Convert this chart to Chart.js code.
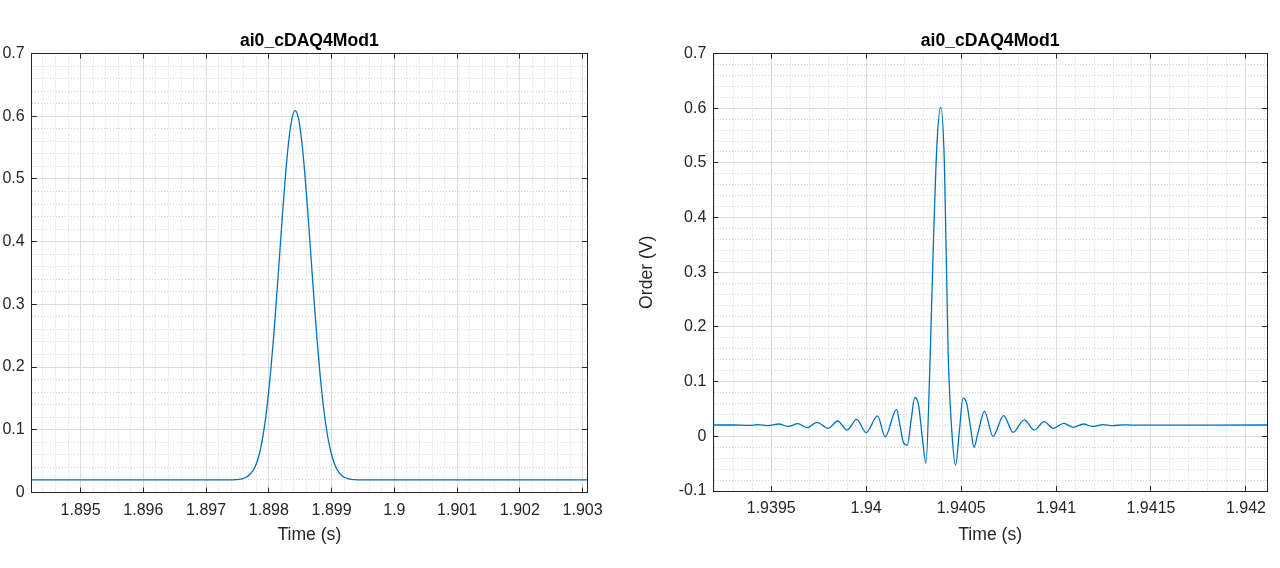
<!DOCTYPE html>
<html><head><meta charset="utf-8">
<script src="https://cdn.jsdelivr.net/npm/chart.js@4"></script>
<style>
html,body{margin:0;padding:0;background:#fff;width:1280px;height:568px;overflow:hidden}
#c1{position:absolute;left:0;top:0}
#c2{position:absolute;left:620px;top:0}
</style>
</head><body>
<canvas id="c1" width="620" height="568"></canvas>
<canvas id="c2" width="660" height="568"></canvas>
<script>
const chartTitle = 'ai0_cDAQ4Mod1';
const xAxisTitle = 'Time (s)';
const yAxisTitleRight = 'Order (V)';

// Left panel series
const leftTimes = [1.89422,
  1.89742,1.89747,1.89752,1.89757,1.89762,1.89767,1.89772,1.89777,1.89782,1.89787,
  1.89792,1.89797,1.89802,1.89807,1.89812,1.89817,1.89822,1.89827,1.89832,1.89837,
  1.89842,
  1.89847,1.89852,1.89857,1.89862,1.89867,1.89872,1.89877,1.89882,1.89887,1.89892,
  1.89897,1.89902,1.89907,1.89912,1.89917,1.89922,1.89927,1.89932,1.89937,1.89942,
  1.90308];
const leftValues = [0.0200,
  0.0202,0.0204,0.0209,0.0218,0.0235,0.0265,0.0312,0.0390,0.0515,0.0712,
  0.0990,0.1366,0.1837,0.2411,0.3067,0.3772,0.4477,0.5120,0.5637,0.5973,
  0.6090,
  0.5973,0.5637,0.5120,0.4477,0.3772,0.3067,0.2411,0.1837,0.1366,0.0997,
  0.0724,0.0531,0.0400,0.0317,0.0265,0.0235,0.0218,0.0209,0.0204,0.0202,
  0.0200];

// Right panel series
const rightTimes = [1.93910,1.93930,1.93938,1.93943,1.93948,1.93954,1.93959,1.93964,1.93969,1.93974,
  1.93980,1.93985,1.93990,1.93995,1.94000,1.94006,1.94010,1.94016,1.940178,1.940197,
  1.940217,1.940237,1.940256,1.940276,1.940295,1.940315,1.940334,1.940353,1.940373,1.940393,
  1.940412,1.940432,1.940451,1.940471,1.940491,1.940510,1.940529,1.940549,1.940568,1.940588,
  1.940623,1.940668,1.940724,1.940774,1.940832,1.940885,1.940938,1.940985,1.941041,1.941091,
  1.941144,1.941193,1.941246,1.941299,1.941350,1.941400,1.942200];
const rightValues = [0.0207,0.0207,0.0201,0.0212,0.0197,0.0225,0.0180,0.0231,0.0158,0.0256,
  0.0146,0.0280,0.0115,0.0310,0.0067,0.0372,-0.0007,0.0493,0.0200,-0.0120,
  -0.0160,0.0300,0.0710,0.0570,0.0000,-0.0490,0.1100,0.3400,0.5350,0.6020,
  0.5000,0.1500,0.0100,-0.0525,0.0100,0.0700,0.0610,0.0180,-0.0200,0.0050,
  0.0456,0.0000,0.0380,0.0073,0.0300,0.0115,0.0267,0.0146,0.0237,0.0164,
  0.0225,0.0180,0.0215,0.0195,0.0210,0.0205,0.0207];

// Axis ranges and tick labels
const leftXRange = [1.89422, 1.90307];
const leftYRange = [0, 0.7];
const leftXTicks = [1.895,1.896,1.897,1.898,1.899,1.9,1.901,1.902,1.903];
const leftXTickLabels = ['1.895','1.896','1.897','1.898','1.899','1.9','1.901','1.902','1.903'];
const leftYTicks = [0,0.1,0.2,0.3,0.4,0.5,0.6,0.7];
const leftYTickLabels = ['0','0.1','0.2','0.3','0.4','0.5','0.6','0.7'];

const rightXRange = [1.939195, 1.942111];
const rightYRange = [-0.1, 0.7];
const rightXTicks = [1.9395,1.94,1.9405,1.941,1.9415,1.942];
const rightXTickLabels = ['1.9395','1.94','1.9405','1.941','1.9415','1.942'];
const rightYTicks = [-0.1,0,0.1,0.2,0.3,0.4,0.5,0.6,0.7];
const rightYTickLabels = ['-0.1','0','0.1','0.2','0.3','0.4','0.5','0.6','0.7'];

const LINE_COLOR = '#0072BD';
const AXIS_COLOR = '#262626';
const FONT = "'Liberation Sans', Arial, Helvetica, sans-serif";
Chart.defaults.font.family = FONT;

function buildTicks(major, labels, step, min, max) {
  const out = major.map((v, i) => ({value: v, major: true, lbl: labels[i]}));
  const k0 = Math.ceil(min / step - 1e-6), k1 = Math.floor(max / step + 1e-6);
  for (let k = k0; k <= k1; k++) {
    const v = +(k * step).toFixed(8);
    if (v < min || v > max) continue;
    if (major.some(m => Math.abs(m - v) < step * 0.1)) continue;
    out.push({value: v, major: false, lbl: ''});
  }
  out.sort((a, b) => a.value - b.value);
  return out;
}

const isMajor = c => !!(c.tick && c.tick.major);
const gridColor = c => isMajor(c) ? '#dcdcdc' : '#d2d2d2';
const gridDash = c => (c.tick && !c.tick.major) ? [1, 2] : [];
const tickColor = c => isMajor(c) ? AXIS_COLOR : 'rgba(0,0,0,0)';

function mainAxis(pos, range, ticks, fitSize, title, titlePad) {
  const horiz = pos === 'bottom';
  return {
    type: 'linear', position: pos, min: range[0], max: range[1],
    afterBuildTicks: s => { s.ticks = ticks.map(t => Object.assign({}, t)); },
    afterFit: s => { if (horiz) s.height = fitSize; else s.width = fitSize; },
    ticks: {
      autoSkip: false, maxRotation: 0, minRotation: 0,
      padding: horiz ? 13 : 12, color: AXIS_COLOR,
      font: {size: 16, family: FONT},
      callback: (v, i, t) => t[i].lbl
    },
    grid: {color: gridColor, lineWidth: 1, drawOnChartArea: true, drawTicks: true,
           tickLength: -5, tickColor: tickColor, tickWidth: 1},
    border: {display: true, color: AXIS_COLOR, width: 1, dash: gridDash},
    title: title ? {display: true, text: title, color: AXIS_COLOR,
                    font: {size: 17.6, family: FONT},
                    padding: horiz ? {top: 0, bottom: titlePad} : {top: titlePad, bottom: 0}}
                 : {display: false}
  };
}

function mirrorAxis(pos, range, majors) {
  const horiz = pos === 'top';
  return {
    type: 'linear', position: pos, min: range[0], max: range[1],
    afterBuildTicks: s => { s.ticks = majors.map(v => ({value: v, major: true})); },
    afterFit: s => { if (horiz) s.height = 0; else s.width = 0; },
    ticks: {display: false},
    grid: {drawOnChartArea: false, drawTicks: true, tickLength: -5, tickColor: AXIS_COLOR, tickWidth: 1},
    border: {display: true, color: AXIS_COLOR, width: 1}
  };
}

function makeChart(id, times, values, xr, yr, xMaj, xLbl, xStep, yMaj, yLbl, yStep,
                   yAxisWidth, xAxisHeight, padRight, yTitle, yTitlePad) {
  const data = times.map((t, i) => ({x: t, y: values[i]}));
  return new Chart(document.getElementById(id), {
    type: 'line',
    data: {datasets: [{data, borderColor: LINE_COLOR, borderWidth: 1.3, pointRadius: 0,
                       fill: false, cubicInterpolationMode: 'monotone',
                       xAxisID: 'x', yAxisID: 'y'}]},
    options: {
      responsive: false, animation: false, devicePixelRatio: 1,
      layout: {padding: {left: 0, right: padRight, top: 30.4, bottom: 0}},
      plugins: {
        legend: {display: false}, tooltip: {enabled: false},
        title: {display: true, text: chartTitle, color: '#000', fullSize: false,
                font: {size: 17.6, weight: 'bold', family: FONT},
                padding: {top: 0, bottom: 2}}
      },
      scales: {
        x: mainAxis('bottom', xr, buildTicks(xMaj, xLbl, xStep, xr[0], xr[1]), xAxisHeight, xAxisTitle, 22.4),
        y: mainAxis('left', yr, buildTicks(yMaj, yLbl, yStep, yr[0], yr[1]), yAxisWidth, yTitle, yTitlePad),
        x2: mirrorAxis('top', xr, xMaj),
        y2: mirrorAxis('right', yr, yMaj)
      }
    }
  });
}

makeChart('c1', leftTimes, leftValues, leftXRange, leftYRange,
          leftXTicks, leftXTickLabels, 0.0002, leftYTicks, leftYTickLabels, 0.02,
          31.7, 75.5, 33, null, 0);
makeChart('c2', rightTimes, rightValues, rightXRange, rightYRange,
          rightXTicks, rightXTickLabels, 0.0001, rightYTicks, rightYTickLabels, 0.02,
          93.3, 77, 13, yAxisTitleRight, 16.4);
</script>
</body></html>
